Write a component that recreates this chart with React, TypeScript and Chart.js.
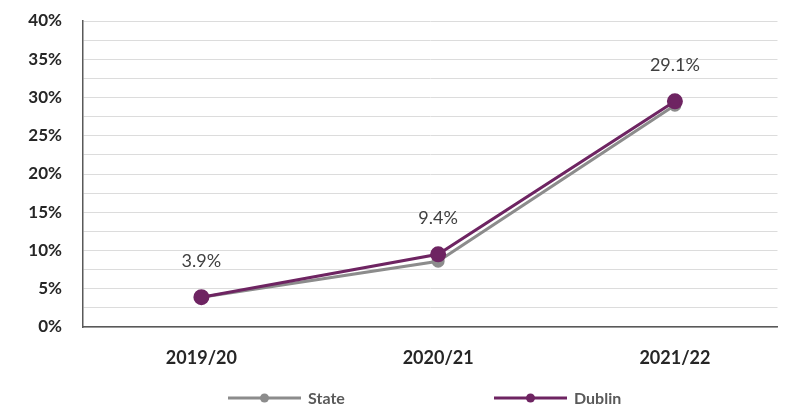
import React, { useEffect, useRef } from "react";
import { Chart, registerables } from "chart.js";

Chart.register(...registerables);

const categories = ["2019/20", "2020/21", "2021/22"];
const stateValues = [3.9, 8.6, 29.0];
const dublinValues = [3.9, 9.5, 29.5];
const dataLabelValues = [3.9, 9.4, 29.1];
const seriesNames = ["State", "Dublin"];
const yTicks = [0, 5, 10, 15, 20, 25, 30, 35, 40];

const STATE_COLOR = "#8c8c8c";
const DUBLIN_COLOR = "#6e2462";
const FONT = "Lato, 'Open Sans', sans-serif";

const overlayPlugin = {
  id: "overlay",
  afterDatasetsDraw(chart: any) {
    const ctx = chart.ctx;
    const xs = chart.scales.x;
    const ys = chart.scales.y;
    ctx.save();
    ctx.font = `18px ${FONT}`;
    ctx.fillStyle = "#404040";
    ctx.textAlign = "center";
    ctx.textBaseline = "middle";
    dataLabelValues.forEach((v, i) => {
      const x = xs.getPixelForValue(i);
      const y = ys.getPixelForValue(dublinValues[i]) - 36;
      ctx.fillText(v.toFixed(1) + "%", x, y);
    });
    const items = [
      { name: seriesNames[0], color: STATE_COLOR, x0: 228 },
      { name: seriesNames[1], color: DUBLIN_COLOR, x0: 494 },
    ];
    const ly = 398;
    ctx.font = `bold 16px ${FONT}`;
    ctx.textAlign = "left";
    items.forEach((it) => {
      ctx.strokeStyle = it.color;
      ctx.lineWidth = 3;
      ctx.beginPath();
      ctx.moveTo(it.x0, ly);
      ctx.lineTo(it.x0 + 73, ly);
      ctx.stroke();
      ctx.fillStyle = it.color;
      ctx.beginPath();
      ctx.arc(it.x0 + 36.5, ly, 4.5, 0, Math.PI * 2);
      ctx.fill();
      ctx.fillStyle = "#595959";
      ctx.fillText(it.name, it.x0 + 80, ly + 1);
    });
    ctx.restore();
  },
};

export default function App() {
  const ref = useRef<HTMLCanvasElement | null>(null);
  useEffect(() => {
    if (!ref.current) return;
    const chart: any = new Chart(ref.current, {
      type: "line",
      data: {
        datasets: [
          {
            label: seriesNames[0],
            data: stateValues.map((v, i) => ({ x: i, y: v })),
            borderColor: STATE_COLOR,
            backgroundColor: STATE_COLOR,
            borderWidth: 3,
            pointRadius: 5,
            pointHoverRadius: 5,
            order: 1,
          },
          {
            label: seriesNames[1],
            data: dublinValues.map((v, i) => ({ x: i, y: v })),
            borderColor: DUBLIN_COLOR,
            backgroundColor: DUBLIN_COLOR,
            borderWidth: 3,
            pointRadius: 6.5,
            pointHoverRadius: 6.5,
            order: 0,
          },
        ],
      },
      options: {
        animation: false,
        responsive: true,
        maintainAspectRatio: false,
        layout: { padding: { top: 21, right: 0, bottom: 0, left: 0 } },
        plugins: {
          legend: { display: false },
          tooltip: { enabled: false },
        },
        scales: {
          x: {
            type: "linear",
            min: -0.5,
            max: 2.4333,
            afterBuildTicks: (s: any) => {
              s.ticks = categories.map((_, i) => ({ value: i }));
            },
            afterFit: (s: any) => {
              s.height = 84;
            },
            grid: { display: false, drawTicks: false },
            border: { display: true, color: "#595959", width: 1.5 },
            ticks: {
              padding: 20,
              autoSkip: false,
              source: "data",
              maxRotation: 0,
              color: "#262626",
              font: { family: FONT, size: 18, weight: "bold" },
              callback: (v: any) => categories[Number(v)] ?? "",
            },
          },
          y: {
            type: "linear",
            min: 0,
            max: 40,
            afterBuildTicks: (s: any) => {
              const t: any[] = [];
              for (let k = 0; k <= 16; k++) t.push({ value: k * 2.5 });
              s.ticks = t;
            },
            afterFit: (s: any) => {
              s.width = 83;
              s.paddingTop = 0;
              s.paddingBottom = 0;
            },
            grid: { color: "#dcdcdc", lineWidth: 1, drawTicks: false },
            border: { display: true, color: "#595959", width: 1.5 },
            ticks: {
              padding: 21,
              autoSkip: false,
              source: "data",
              color: "#262626",
              font: { family: FONT, size: 17, weight: "bold" },
              callback: (v: any) => (yTicks.includes(Number(v)) ? v + "%" : ""),
            },
          },
        },
      },
      plugins: [overlayPlugin],
    } as any);
    return () => chart.destroy();
  }, []);
  return (
    <div style={{ position: "fixed", left: 0, top: 0, width: 787, height: 411, background: "#fff" }}>
      <canvas ref={ref} />
    </div>
  );
}
